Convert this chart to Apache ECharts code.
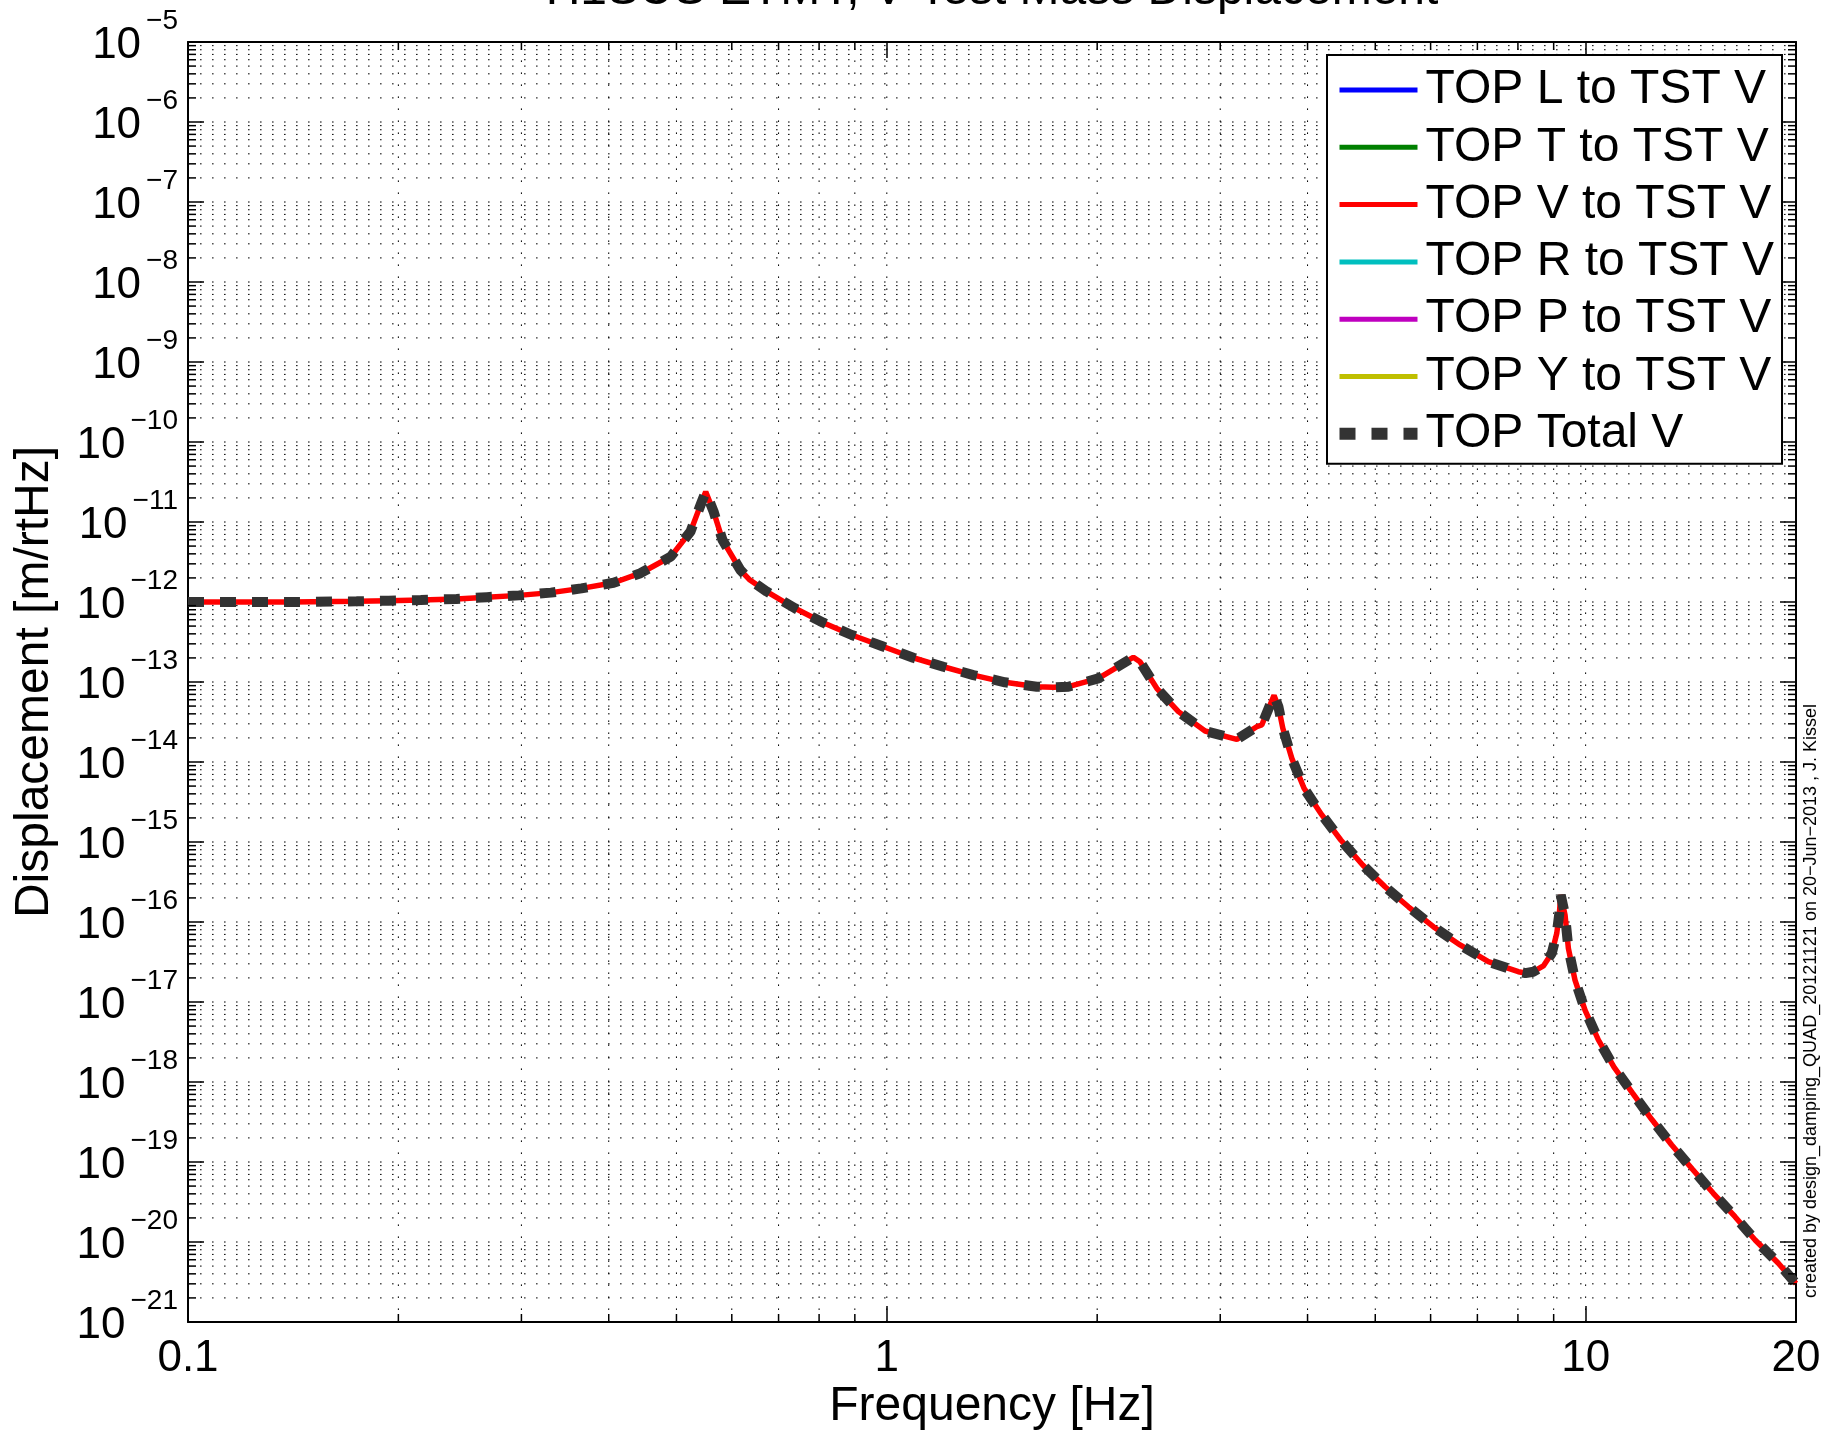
<!DOCTYPE html>
<html><head><meta charset="utf-8">
<script src="https://cdn.jsdelivr.net/npm/echarts@6/dist/echarts.min.js"></script>
<style>html,body{margin:0;padding:0;background:#fff}#c{width:1839px;height:1435px}</style>
</head><body><div id="c"></div>
<script>
const FONT = '"Liberation Sans", Arial, Helvetica, sans-serif';
const titleText = 'H1SUS ETMY, V Test Mass Displacement';
const xAxisName = 'Frequency [Hz]';
const yAxisName = 'Displacement [m/rtHz]';
const creditText = 'created by design_damping_QUAD_20121121 on 20\u2212Jun\u22122013 , J. Kissel';

const seriesNames = ['TOP L to TST V', 'TOP T to TST V', 'TOP V to TST V', 'TOP R to TST V', 'TOP P to TST V', 'TOP Y to TST V', 'TOP Total V'];
const seriesColors = ['#0000ff', '#008000', '#ff0000', '#00bfbf', '#bf00bf', '#bfbf00', '#333333'];

// frequency samples [Hz]
const freqHz = [0.1, 0.1114, 0.1409, 0.1742, 0.1937, 0.2153, 0.2422, 0.2677, 0.2975, 0.3307, 0.3656, 0.4064, 0.4441, 0.4906, 0.5236, 0.5424, 0.5506, 0.5651, 0.5819, 0.6172, 0.637, 0.6733, 0.7389, 0.8112, 0.891, 0.9833, 1.091, 1.205, 1.33, 1.476, 1.639, 1.731, 1.819, 2.008, 2.11, 2.253, 2.303, 2.434, 2.614, 2.854, 3.168, 3.383, 3.44, 3.535, 3.582, 3.634, 3.687, 3.798, 3.954, 4.193, 4.463, 4.797, 5.163, 5.577, 6.054, 6.612, 7.258, 8.011, 8.2, 8.419, 8.7, 8.944, 9.093, 9.171, 9.213, 9.344, 9.447, 9.656, 9.98, 10.43, 10.98, 11.68, 12.43, 13.28, 14.22, 15.23, 16.36, 17.48, 18.87, 20];
// TOP V to TST V displacement [m/rtHz]
const topV = [1.0e-12, 1.0e-12, 1.0e-12, 1.02e-12, 1.04e-12, 1.06e-12, 1.09e-12, 1.15e-12, 1.21e-12, 1.31e-12, 1.48e-12, 1.74e-12, 2.29e-12, 3.68e-12, 7.57e-12, 1.71e-11, 2.39e-11, 1.35e-11, 5.96e-12, 2.51e-12, 1.88e-12, 1.35e-12, 8.34e-13, 5.51e-13, 3.87e-13, 2.82e-13, 2.01e-13, 1.55e-13, 1.22e-13, 9.91e-14, 8.73e-14, 8.59e-14, 8.73e-14, 1.11e-13, 1.44e-13, 2.04e-13, 1.79e-13, 8.34e-14, 4.26e-14, 2.44e-14, 1.92e-14, 2.76e-14, 2.9e-14, 5.16e-14, 6.8e-14, 4.91e-14, 2.64e-14, 1.11e-14, 4.69e-15, 2.18e-15, 1.06e-15, 5.16e-16, 2.76e-16, 1.55e-16, 8.73e-17, 5.16e-17, 3.19e-17, 2.39e-17, 2.3e-17, 2.39e-17, 2.82e-17, 4.06e-17, 7.23e-17, 1.29e-16, 2.18e-16, 1.22e-16, 4.69e-17, 1.88e-17, 7.94e-18, 3.35e-18, 1.53e-18, 7.23e-19, 3.42e-19, 1.63e-19, 8.11e-20, 4.06e-20, 2.07e-20, 1.06e-20, 5.42e-21, 3.02e-21];
// total equals the V contribution (other couplings are below the plotted range)
const topTotalV = topV.slice();
const topL = [], topT = [], topR = [], topP = [], topY = [];

// ECharts rounds log-axis tick values to 20 decimals, which would turn 1e-21 into 0.
// So the y axis works internally in units of 1e-10 m/rtHz and the labels show the true exponent.
const Y_UNIT_EXP = -10;
const Y_UNIT = Math.pow(10, Y_UNIT_EXP);
const toPlot = v => v / Y_UNIT;

const xMin = 0.1, xMax = 20;
const yMinExp = -21, yMaxExp = -5;
const yMin = toPlot(Math.pow(10, yMinExp)), yMax = toPlot(Math.pow(10, yMaxExp));
const yDecades = [];
for (let k = yMinExp; k < yMaxExp; k++) yDecades.push(k - Y_UNIT_EXP);
const xDecades = [-1, 0, 1];

// grid / minor tick positions (plot units)
const xGrid = [], xMinor = [];
xDecades.forEach(k => { for (let m = 1; m <= 9; m++) { const v = m * Math.pow(10, k); if (v > xMin * 1.0001 && v < xMax * 0.9999) { xGrid.push(v); if (m > 1) xMinor.push(v); } } });
const yGrid = [], yMinor = [];
yDecades.forEach(k => { for (let m = 1; m <= 9; m++) { const v = m * Math.pow(10, k); if (v > yMin * 1.0001 && v < yMax * 0.9999) { yGrid.push(v); if (m > 1) yMinor.push(v); } } });

const gridData = xGrid.map(v => [v, yMin, 0]).concat(yGrid.map(v => [xMin, v, 1]));
const tickData = xMinor.map(v => [v, yMin, 0]).concat(yMinor.map(v => [xMin, v, 1]));

function zip(xs, ys) { return ys.map((y, i) => [xs[i], toPlot(y)]); }
const seriesData = [topL, topT, zip(freqHz, topV), topR, topP, topY, zip(freqHz, topTotalV)];

function renderGrid(params, api) {
  const kind = api.value(2);
  let a, b;
  if (kind === 0) { a = api.coord([api.value(0), yMin]); b = api.coord([api.value(0), yMax]); }
  else { a = api.coord([xMin, api.value(1)]); b = api.coord([xMax, api.value(1)]); }
  return { type: 'line', silent: true, shape: { x1: a[0], y1: a[1], x2: b[0], y2: b[1] },
    style: { stroke: '#000', lineWidth: 1, lineDash: [1.6, 10.4] } };
}
function renderTicks(params, api) {
  const kind = api.value(2);
  const L = 8;
  let s1, s2;
  if (kind === 0) {
    const a = api.coord([api.value(0), yMin]), b = api.coord([api.value(0), yMax]);
    s1 = { x1: a[0], y1: a[1], x2: a[0], y2: a[1] - L }; s2 = { x1: b[0], y1: b[1], x2: b[0], y2: b[1] + L };
  } else {
    const a = api.coord([xMin, api.value(1)]), b = api.coord([xMax, api.value(1)]);
    s1 = { x1: a[0], y1: a[1], x2: a[0] + L, y2: a[1] }; s2 = { x1: b[0], y1: b[1], x2: b[0] - L, y2: b[1] };
  }
  const st = { stroke: '#000', lineWidth: 1.5 };
  return { type: 'group', silent: true, children: [ { type: 'line', shape: s1, style: st }, { type: 'line', shape: s2, style: st } ] };
}

const axisLineStyle = { show: true, onZero: false, lineStyle: { color: '#000', width: 2 } };
const majorTick = { show: true, inside: true, length: 16, interval: 0, lineStyle: { color: '#000', width: 1.5 } };

const series = seriesNames.map((name, i) => {
  const isTotal = i === 6;
  return {
    name, type: 'line', data: seriesData[i], symbol: 'none', showSymbol: false, smooth: false,
    xAxisIndex: 0, yAxisIndex: 0, z: isTotal ? 4 : 3, silent: true,
    lineStyle: isTotal ? { color: seriesColors[i], width: 10, type: [16, 16], cap: 'butt' }
                       : { color: seriesColors[i], width: 5.5 },
    itemStyle: { color: seriesColors[i] }
  };
});
series.unshift({ type: 'custom', name: '_grid', renderItem: renderGrid, data: gridData, z: 1, silent: true, xAxisIndex: 0, yAxisIndex: 0 });
series.push({ type: 'custom', name: '_ticks', renderItem: renderTicks, data: tickData, z: 5, silent: true, xAxisIndex: 0, yAxisIndex: 0 });

// dashed legend swatch: three 16px dashes in a 78x14 box
const dashIcon = 'path://M0,0h0.01v0.01h-0.01z M78,14h-0.01v-0.01h0.01z M0,1h16v12h-16z M32,1h16v12h-16z M64,1h14v12h-14z';

const option = {
  animation: false,
  backgroundColor: '#ffffff',
  textStyle: { fontFamily: FONT },
  grid: { left: 188, top: 42, right: 43, bottom: 113, show: false, containLabel: false, outerBoundsMode: 'none' },
  graphic: [
    { type: 'text', x: 992, y: -9, silent: true, style: { text: titleText, fontSize: 48, fontFamily: FONT, fill: '#000', align: 'center', verticalAlign: 'middle' } },
    { type: 'text', x: 1811, y: 1001, rotation: Math.PI / 2, silent: true, style: { text: creditText, fontSize: 18, fontFamily: FONT, fill: '#000', align: 'center', verticalAlign: 'middle' } },
    { type: 'text', x: 35, y: 682, rotation: Math.PI / 2, silent: true, style: { text: yAxisName, fontSize: 48, fontFamily: FONT, fill: '#000', align: 'center', verticalAlign: 'middle' } }
  ],
  legend: {
    orient: 'vertical', left: 1327, top: 55, padding: [10, 8, 5, 10],
    backgroundColor: '#fff', borderColor: '#000', borderWidth: 2, borderRadius: 0,
    itemWidth: 78, itemHeight: 14, itemGap: 7.3,
    textStyle: { fontSize: 48, fontFamily: FONT, color: '#000', lineHeight: 50, padding: [0, 0, 0, 3] },
    lineStyle: { width: 5 }, itemStyle: { opacity: 0 },
    selectedMode: false,
    data: seriesNames.map((n, i) => i === 6
      ? { name: n, icon: dashIcon, itemStyle: { opacity: 1, color: seriesColors[6], borderWidth: 0 } }
      : { name: n })
  },
  xAxis: [
    { type: 'log', logBase: 10, min: xMin, max: xMax, position: 'bottom', gridIndex: 0,
      axisLine: axisLineStyle, axisTick: majorTick, splitLine: { show: false }, minorTick: { show: false },
      axisLabel: { show: true, interval: 0, margin: 36, fontSize: 44, lineHeight: 2, color: '#000', fontFamily: FONT,
        showMinLabel: true, showMaxLabel: true, hideOverlap: false,
        formatter: v => String(parseFloat(Number(v).toPrecision(6))) },
      name: xAxisName, nameLocation: 'middle', nameGap: 61, nameMoveOverlap: false,
      nameTextStyle: { fontSize: 48, fontFamily: FONT, color: '#000', lineHeight: 48 } },
    { type: 'log', logBase: 10, min: xMin, max: xMax, position: 'top', gridIndex: 0,
      axisLine: axisLineStyle, axisTick: majorTick, splitLine: { show: false }, axisLabel: { show: false } }
  ],
  yAxis: [
    { type: 'log', logBase: 10, min: yMin, max: yMax, interval: 1, splitNumber: 16, position: 'left', gridIndex: 0,
      axisLine: axisLineStyle, axisTick: majorTick, splitLine: { show: false }, minorTick: { show: false },
      axisLabel: { show: true, interval: 0, hideOverlap: false, showMinLabel: true, showMaxLabel: true, margin: 10, color: '#000', fontFamily: FONT,
        formatter: v => '{b|10}{s| }{e|\u2212' + (-(Math.round(Math.log10(v)) + Y_UNIT_EXP)) + '}',
        rich: {
          b: { fontSize: 44, lineHeight: 44, verticalAlign: 'middle', padding: [8, 0, 0, 0], fontFamily: FONT, color: '#000' },
          s: { fontSize: 10, width: 5, lineHeight: 69, verticalAlign: 'middle' },
          e: { fontSize: 28, verticalAlign: 'top', fontFamily: FONT, color: '#000' }
        } } },
    { type: 'log', logBase: 10, min: yMin, max: yMax, interval: 1, splitNumber: 16, position: 'right', gridIndex: 0,
      axisLine: axisLineStyle, axisTick: majorTick, splitLine: { show: false }, axisLabel: { show: false } }
  ],
  series
};

const chart = echarts.init(document.getElementById('c'), null, { renderer: 'canvas' });
chart.setOption(option);
</script>
</body></html>
